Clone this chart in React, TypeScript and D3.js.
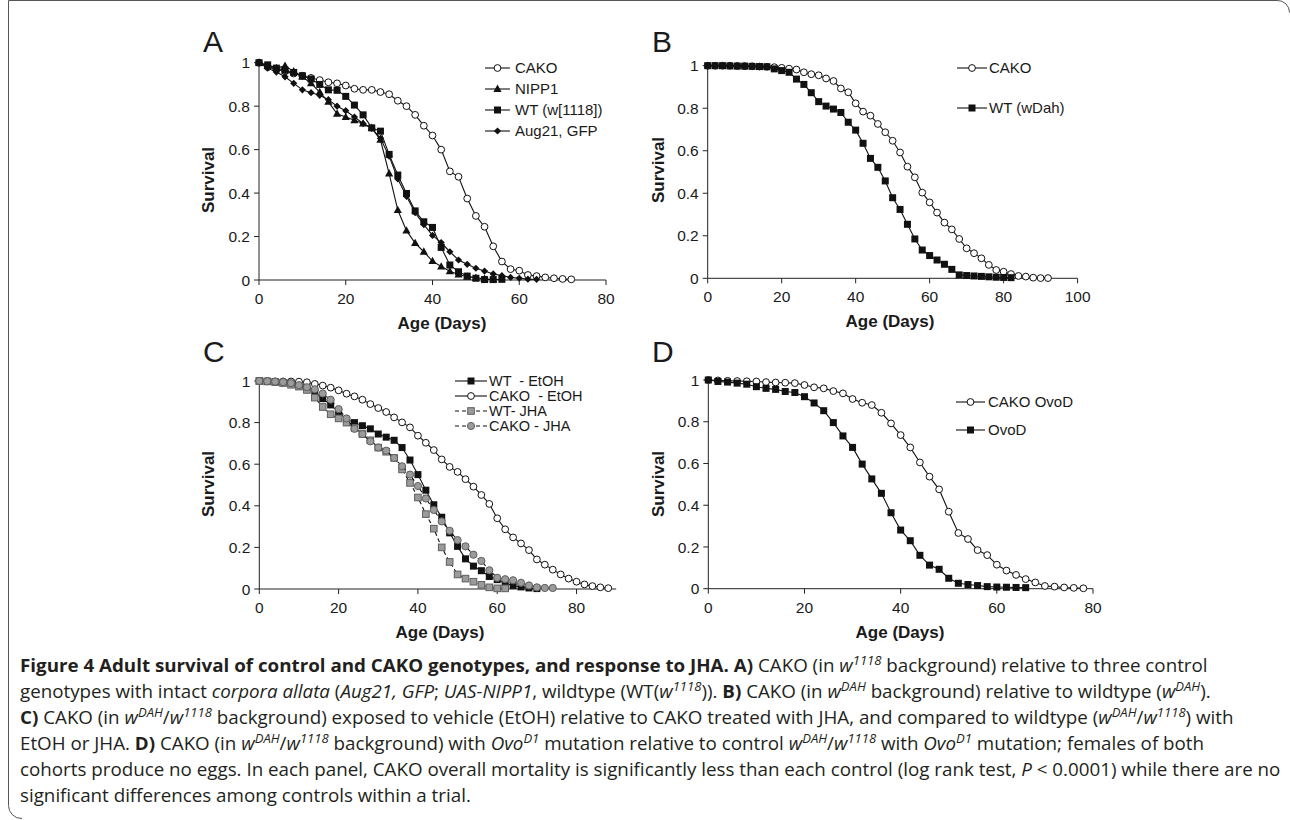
import React, { useLayoutEffect, useRef, useState } from "react";
import * as d3 from "d3";

// ---------- data ----------
const DAYS_A = [0,2,4,6,8,10,12,14,16,18,20,22,24,26,28,30,32,34,36,38,40,42,44,46,48,50,52,54,56,58,60,62,64,66,68,70,72];
const A_CAKO = [1.0,0.98,0.97,0.96,0.95,0.94,0.93,0.92,0.91,0.905,0.895,0.88,0.875,0.875,0.865,0.855,0.825,0.8,0.76,0.71,0.665,0.6,0.5,0.475,0.375,0.295,0.245,0.155,0.085,0.05,0.043,0.023,0.018,0.012,0.008,0.005,0.003];
const A_NIPP1 = [1.0,0.985,0.975,0.985,0.96,0.935,0.905,0.865,0.82,0.765,0.75,0.735,0.72,0.7,0.645,0.49,0.322,0.227,0.17,0.13,0.087,0.062,0.04,0.025,0.015,0.01,0.005,0.002];
const A_WT = [1.0,0.99,0.975,0.965,0.955,0.94,0.925,0.9,0.875,0.873,0.845,0.805,0.76,0.7,0.685,0.578,0.483,0.398,0.318,0.268,0.242,0.15,0.069,0.038,0.018,0.008,0.002,0.002,0.003];
const A_AUG21 = [1.0,0.975,0.957,0.935,0.905,0.875,0.862,0.85,0.83,0.8,0.779,0.75,0.72,0.698,0.652,0.57,0.465,0.385,0.31,0.255,0.205,0.172,0.13,0.092,0.072,0.054,0.041,0.028,0.02,0.012,0.008,0.004,0.003];

const DAYS_B = [0,2,4,6,8,10,12,14,16,18,20,22,24,26,28,30,32,34,36,38,40,42,44,46,48,50,52,54,56,58,60,62,64,66,68,70,72,74,76,78,80,82,84,86,88,90,92];
const B_CAKO = [1.0,1.0,1.0,1.0,0.999,0.998,0.997,0.996,0.995,0.993,0.99,0.986,0.982,0.969,0.96,0.955,0.94,0.928,0.893,0.875,0.823,0.784,0.765,0.726,0.687,0.647,0.592,0.525,0.475,0.403,0.357,0.309,0.262,0.23,0.185,0.141,0.118,0.094,0.063,0.039,0.031,0.02,0.011,0.008,0.003,0.001,0.001];
const B_WT = [1.0,1.0,1.0,0.999,0.998,0.998,0.997,0.996,0.995,0.985,0.977,0.969,0.937,0.912,0.873,0.831,0.81,0.796,0.78,0.734,0.697,0.635,0.564,0.522,0.458,0.379,0.324,0.254,0.185,0.133,0.107,0.086,0.066,0.042,0.016,0.013,0.011,0.009,0.007,0.005,0.004,0.003];

const DAYS_C = [0,2,4,6,8,10,12,14,16,18,20,22,24,26,28,30,32,34,36,38,40,42,44,46,48,50,52,54,56,58,60,62,64,66,68,70,72,74,76,78,80,82,84,86,88];
const C_WT_ETOH = [1.0,0.998,0.996,0.993,0.99,0.983,0.97,0.945,0.915,0.885,0.85,0.815,0.8,0.785,0.77,0.745,0.73,0.715,0.68,0.62,0.55,0.475,0.405,0.345,0.27,0.205,0.145,0.11,0.088,0.06,0.045,0.028,0.017,0.01,0.005,0.002];
const C_CAKO_ETOH = [1.0,1.0,0.998,0.998,0.998,0.997,0.994,0.986,0.978,0.968,0.955,0.939,0.926,0.91,0.889,0.87,0.851,0.825,0.801,0.777,0.737,0.703,0.668,0.623,0.587,0.563,0.528,0.492,0.452,0.409,0.34,0.287,0.248,0.219,0.187,0.142,0.117,0.093,0.07,0.05,0.035,0.022,0.014,0.008,0.004];
const C_WT_JHA = [1.0,0.998,0.995,0.99,0.982,0.973,0.957,0.92,0.875,0.84,0.82,0.8,0.775,0.745,0.715,0.68,0.66,0.63,0.575,0.51,0.44,0.36,0.29,0.2,0.13,0.07,0.05,0.035,0.02,0.008,0.003,0.003];
const C_CAKO_JHA = [1.0,0.999,0.997,0.995,0.99,0.98,0.97,0.96,0.94,0.91,0.865,0.82,0.77,0.745,0.71,0.68,0.665,0.63,0.59,0.55,0.495,0.435,0.38,0.325,0.28,0.235,0.205,0.165,0.135,0.09,0.054,0.047,0.042,0.03,0.017,0.008,0.005,0.005];

const DAYS_D = [0,2,4,6,8,10,12,14,16,18,20,22,24,26,28,30,32,34,36,38,40,42,44,46,48,50,52,54,56,58,60,62,64,66,68,70,72,74,76,78];
const D_CAKO_OVOD = [1.0,0.998,0.996,0.995,0.994,0.993,0.99,0.988,0.987,0.985,0.976,0.965,0.96,0.947,0.936,0.909,0.891,0.88,0.843,0.792,0.736,0.677,0.605,0.537,0.476,0.369,0.267,0.238,0.185,0.161,0.115,0.087,0.066,0.046,0.03,0.013,0.01,0.006,0.004,0.002];
const D_OVOD = [1.0,0.993,0.99,0.985,0.98,0.968,0.96,0.955,0.945,0.94,0.92,0.89,0.853,0.796,0.732,0.677,0.597,0.526,0.457,0.364,0.281,0.23,0.16,0.113,0.093,0.05,0.026,0.02,0.015,0.01,0.008,0.007,0.006,0.005];

const Y_TICKS = [0, 0.2, 0.4, 0.6, 0.8, 1];
const X_TICKS_80 = [0, 20, 40, 60, 80];
const X_TICKS_100 = [0, 20, 40, 60, 80, 100];

// ---------- caption text ----------
type Seg = { t: string; b?: boolean; i?: boolean; sup?: boolean };
const R = (t: string): Seg => ({ t });
const B = (t: string): Seg => ({ t, b: true });
const I = (t: string): Seg => ({ t, i: true });
const S = (t: string): Seg => ({ t, i: true, sup: true });

const CAPTION: Seg[][] = [
  [B("Figure 4 Adult survival of control and CAKO genotypes, and response to JHA. A)"), R(" CAKO (in "), I("w"), S("1118"), R(" background) relative to three control")],
  [R("genotypes with intact "), I("corpora allata"), R(" ("), I("Aug21, GFP"), R("; "), I("UAS-NIPP1"), R(", wildtype (WT("), I("w"), S("1118"), R(")). "), B("B)"), R(" CAKO (in "), I("w"), S("DAH"), R(" background) relative to wildtype ("), I("w"), S("DAH"), R(").")],
  [B("C)"), R(" CAKO (in "), I("w"), S("DAH"), R("/"), I("w"), S("1118"), R(" background) exposed to vehicle (EtOH) relative to CAKO treated with JHA, and compared to wildtype ("), I("w"), S("DAH"), R("/"), I("w"), S("1118"), R(") with")],
  [R("EtOH or JHA. "), B("D)"), R(" CAKO (in "), I("w"), S("DAH"), R("/"), I("w"), S("1118"), R(" background) with "), I("Ovo"), S("D1"), R(" mutation relative to control "), I("w"), S("DAH"), R("/"), I("w"), S("1118"), R(" with "), I("Ovo"), S("D1"), R(" mutation; females of both")],
  [R("cohorts produce no eggs. In each panel, CAKO overall mortality is significantly less than each control (log rank test, "), I("P"), R(" < 0.0001) while there are no")],
  [R("significant differences among controls within a trial.")],
];

// ---------- config ----------
type Mk = "circle" | "triangle" | "square" | "diamond" | "graySquare" | "grayCircle";
type SeriesCfg = { name: string; days: number[]; vals: number[]; mk: Mk; dashed?: boolean };
type PanelCfg = {
  letter: string; letterX: number; letterY: number;
  xRange: [number, number]; xMax: number; xTicks: number[];
  yRange: [number, number];
  series: SeriesCfg[];
  legend: { x1: number; x2: number; tx: number; ys: number[]; fs: number };
  survX: number; survY: number; ageX: number;
};

const PANELS: PanelCfg[] = [
  {
    letter: "A", letterX: 203, letterY: 52,
    xRange: [259, 606], xMax: 80, xTicks: X_TICKS_80, yRange: [280, 62.7],
    series: [
      { name: "CAKO", days: DAYS_A, vals: A_CAKO, mk: "circle" },
      { name: "NIPP1", days: DAYS_A, vals: A_NIPP1, mk: "triangle" },
      { name: "WT (w[1118])", days: DAYS_A, vals: A_WT, mk: "square" },
      { name: "Aug21, GFP", days: DAYS_A, vals: A_AUG21, mk: "diamond" },
    ],
    legend: { x1: 485, x2: 510, tx: 515, ys: [68, 89, 110, 131], fs: 15 },
    survX: 208, survY: 180, ageX: 442,
  },
  {
    letter: "B", letterX: 652, letterY: 52,
    xRange: [707.7, 1077.6], xMax: 100, xTicks: X_TICKS_100, yRange: [278.3, 65.7],
    series: [
      { name: "CAKO", days: DAYS_B, vals: B_CAKO, mk: "circle" },
      { name: "WT (wDah)", days: DAYS_B, vals: B_WT, mk: "square" },
    ],
    legend: { x1: 957, x2: 987, tx: 989, ys: [68, 108], fs: 15 },
    survX: 658, survY: 170, ageX: 890,
  },
  {
    letter: "C", letterX: 203, letterY: 362,
    xRange: [259.3, 616.2], xMax: 90, xTicks: X_TICKS_80, yRange: [589, 381],
    series: [
      { name: "WT  - EtOH", days: DAYS_C, vals: C_WT_ETOH, mk: "square" },
      { name: "CAKO  - EtOH", days: DAYS_C, vals: C_CAKO_ETOH, mk: "circle" },
      { name: "WT- JHA", days: DAYS_C, vals: C_WT_JHA, mk: "graySquare", dashed: true },
      { name: "CAKO - JHA", days: DAYS_C, vals: C_CAKO_JHA, mk: "grayCircle", dashed: true },
    ],
    legend: { x1: 455, x2: 487, tx: 489, ys: [381, 396, 411, 426], fs: 14.5 },
    survX: 208, survY: 484, ageX: 440,
  },
  {
    letter: "D", letterX: 652, letterY: 362,
    xRange: [708.3, 1093], xMax: 80, xTicks: X_TICKS_80, yRange: [588.7, 380],
    series: [
      { name: "CAKO OvoD", days: DAYS_D, vals: D_CAKO_OVOD, mk: "circle" },
      { name: "OvoD", days: DAYS_D, vals: D_OVOD, mk: "square" },
    ],
    legend: { x1: 956, x2: 985, tx: 988, ys: [402, 430], fs: 15 },
    survX: 658, survY: 484, ageX: 900,
  },
];

const FONT = "'Liberation Sans', Arial, Helvetica, sans-serif";
const INK = "#1a1a1a";

function Marker({ kind, x, y }: { kind: Mk; x: number; y: number }) {
  switch (kind) {
    case "circle":
      return <circle cx={x} cy={y} r={3.4} fill="#fff" stroke="#111" strokeWidth={1} />;
    case "grayCircle":
      return <circle cx={x} cy={y} r={3.6} fill="#9b9b9b" stroke="#5e5e5e" strokeWidth={1} />;
    case "square":
      return <rect x={x - 3.5} y={y - 3.5} width={7} height={7} fill="#111" />;
    case "graySquare":
      return <rect x={x - 3.3} y={y - 3.3} width={6.6} height={6.6} fill="#9b9b9b" stroke="#5e5e5e" strokeWidth={1} />;
    case "triangle":
      return <path d={`M${x},${y - 4.4}L${x + 4.1},${y + 2.9}L${x - 4.1},${y + 2.9}Z`} fill="#111" />;
    case "diamond":
      return <path d={`M${x},${y - 3.6}L${x + 3.6},${y}L${x},${y + 3.6}L${x - 3.6},${y}Z`} fill="#111" />;
  }
  return null;
}

function Panel({ p }: { p: PanelCfg }) {
  const x = d3.scaleLinear().domain([0, p.xMax]).range(p.xRange);
  const y = d3.scaleLinear().domain([0, 1]).range(p.yRange);
  const line = d3.line<[number, number]>().x((d) => x(d[0])).y((d) => y(d[1]));
  const x0 = x(0), y0 = y(0);
  return (
    <g>
      <text x={p.letterX} y={p.letterY} fontSize={30} fontFamily={FONT} fill={INK}>{p.letter}</text>
      <line x1={x0} x2={x0} y1={y(1)} y2={y0} stroke="#222" strokeWidth={1} />
      <line x1={x0} x2={x(p.xMax)} y1={y0} y2={y0} stroke="#222" strokeWidth={1} />
      {Y_TICKS.map((t) => (
        <g key={"y" + t}>
          <line x1={x0 - 5} x2={x0} y1={y(t)} y2={y(t)} stroke="#222" strokeWidth={1} />
          <text x={x0 - 9} y={y(t)} dy="0.36em" textAnchor="end" fontSize={15.5} fontFamily={FONT} fill={INK}>{String(t)}</text>
        </g>
      ))}
      {p.xTicks.map((t) => (
        <g key={"x" + t}>
          <line x1={x(t)} x2={x(t)} y1={y0} y2={y0 + 5} stroke="#222" strokeWidth={1} />
          <text x={x(t)} y={y0 + 24} textAnchor="middle" fontSize={15.5} fontFamily={FONT} fill={INK}>{String(t)}</text>
        </g>
      ))}
      <text transform={`translate(${p.survX},${p.survY}) rotate(-90)`} dy="0.36em" textAnchor="middle" fontSize={17} fontWeight="bold" fontFamily={FONT} fill={INK}>Survival</text>
      <text x={p.ageX} y={y0 + 49} textAnchor="middle" fontSize={17} fontWeight="bold" fontFamily={FONT} fill={INK}>Age (Days)</text>
      {p.series.map((s, si) => {
        const pts: [number, number][] = s.vals.map((v, i) => [s.days[i], v]);
        return (
          <g key={"s" + si}>
            <path d={line(pts) || ""} fill="none" stroke="#111" strokeWidth={1.1} strokeDasharray={s.dashed ? "4,3" : undefined} />
            {pts.map((d, i) => <Marker key={i} kind={s.mk} x={x(d[0])} y={y(d[1])} />)}
          </g>
        );
      })}
      {p.series.map((s, si) => {
        const ly = p.legend.ys[si];
        return (
          <g key={"l" + si}>
            <line x1={p.legend.x1} x2={p.legend.x2} y1={ly} y2={ly} stroke="#111" strokeWidth={1.1} strokeDasharray={s.dashed ? "4,3" : undefined} />
            <Marker kind={s.mk} x={(p.legend.x1 + p.legend.x2) / 2} y={ly} />
            <text x={p.legend.tx} y={ly} dy="0.36em" fontSize={p.legend.fs} fontFamily={FONT} fill={INK} style={{ whiteSpace: "pre" }}>{s.name}</text>
          </g>
        );
      })}
    </g>
  );
}

function CaptionLine({ segs, y, refEl }: { segs: Seg[]; y: number; refEl?: React.Ref<SVGTextElement> }) {
  let up = false;
  const kids = segs.map((s, k) => {
    let dy: number | undefined = undefined;
    if (s.sup && !up) { dy = -7; up = true; }
    else if (!s.sup && up) { dy = 7; up = false; }
    return (
      <tspan key={k} dy={dy} fontWeight={s.b ? "bold" : undefined} fontStyle={s.i ? "italic" : undefined} fontSize={s.sup ? 12.5 : undefined}>{s.t}</tspan>
    );
  });
  return (
    <text ref={refEl} x={0} y={y} fontSize={18} fontFamily="'Open Sans', 'Noto Sans', sans-serif" fill="#231f20" style={{ whiteSpace: "pre" }}>{kids}</text>
  );
}

const CAPTION_Y = [672, 698, 724, 750, 776, 802];
const CAPTION_TARGET = 1262;

export default function App() {
  const refEl = useRef<SVGTextElement>(null);
  const [sx, setSx] = useState(1);
  useLayoutEffect(() => {
    if (refEl.current) {
      const w = refEl.current.getComputedTextLength();
      if (w > 0) setSx(CAPTION_TARGET / w);
    }
  }, []);
  return (
    <svg width={1290} height={820} style={{ position: "absolute", left: 0, top: 0, background: "#fff" }}>
      <rect x={0} y={0} width={1290} height={820} fill="#fff" />
      <path d="M 22 818.5 A 13 13 0 0 1 8.5 805.5 L 8.5 0.5 L 1277 0.5 A 12 12 0 0 1 1289.5 12.5" fill="none" stroke="#555" strokeWidth={1} />
      {PANELS.map((p) => <Panel key={p.letter} p={p} />)}
      <g transform={`translate(20,0) scale(${sx},1)`}>
        {CAPTION.map((segs, i) => (
          <CaptionLine key={i} segs={segs} y={CAPTION_Y[i]} refEl={i === 4 ? refEl : undefined} />
        ))}
      </g>
    </svg>
  );
}
